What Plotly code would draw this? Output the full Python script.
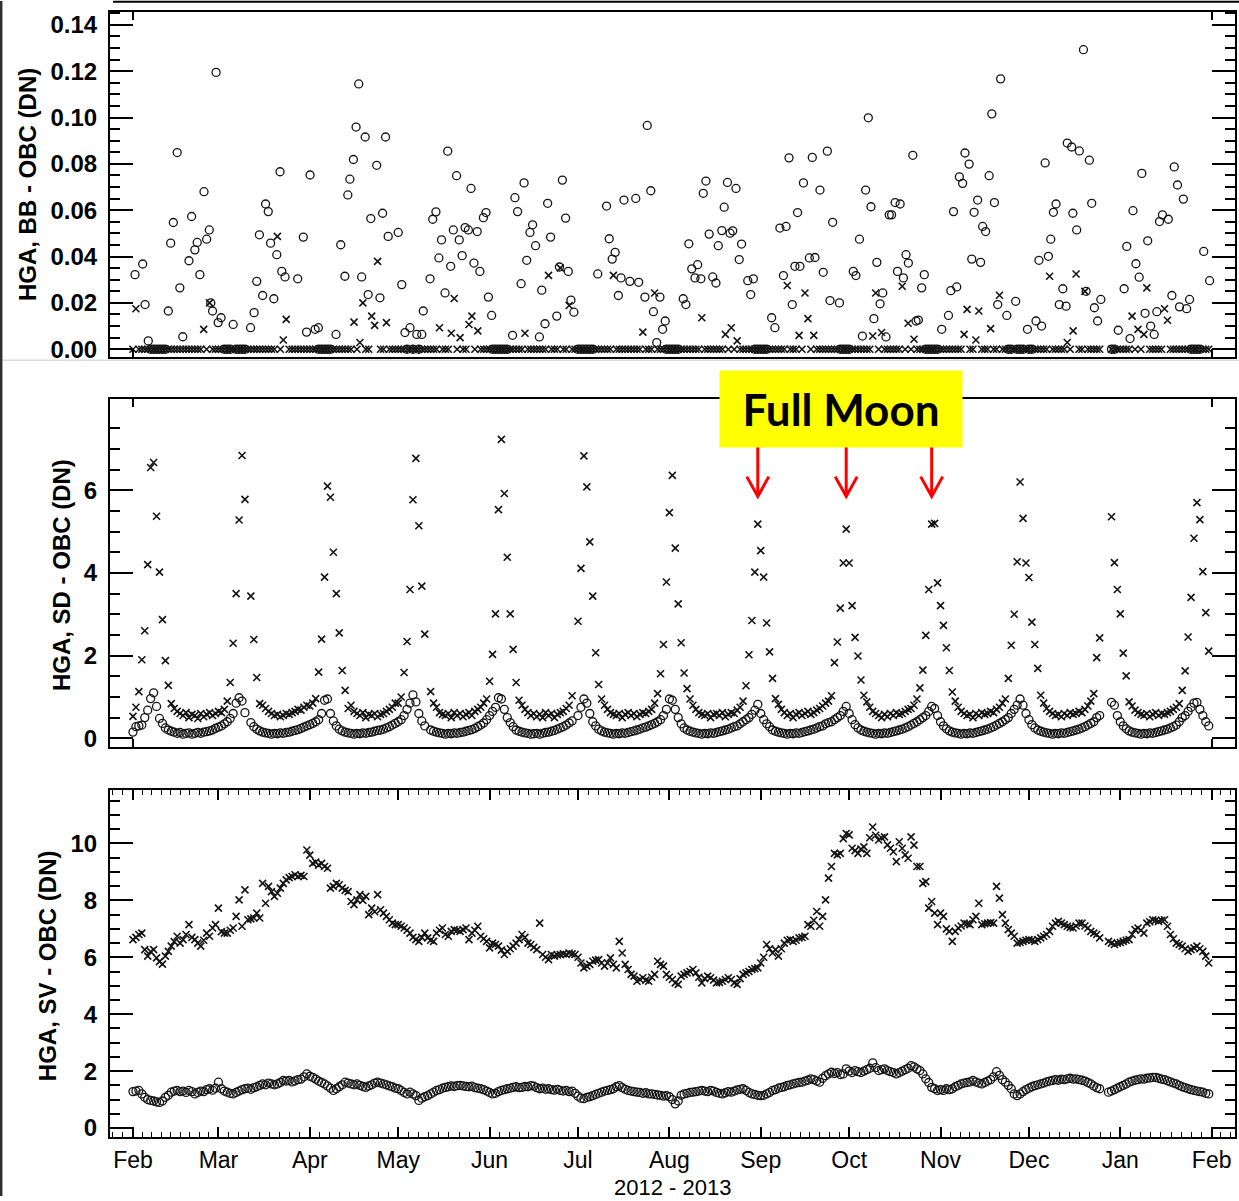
import pandas as pd
import plotly.graph_objects as go

START = "2012-02-01"          # first day of the daily series (day offset 0)
N_DAYS = 366                  # 2012-02-01 .. 2013-01-31

# ---------------- Panel 1 : HGA, BB - OBC (DN) ----------------
# circles: day offset (days since 2012-02-01) and value
bb_circle_day = [
    0.7, 3.3, 4.1, 5.2, 12.0, 12.8, 13.7, 15.0, 15.9, 16.9, 19.0, 19.9, 21.0, 21.8, 22.7, 24.1, 25.0, 25.9,
    26.4, 27.0, 28.2, 28.9, 29.9, 34.0, 39.9, 41.1, 42.0, 42.9, 44.0, 45.0, 45.9, 46.7, 47.8, 48.8, 49.9,
    50.5, 51.6, 55.9, 57.8, 58.9, 60.1, 61.8, 62.9, 68.9, 70.5, 71.9, 72.9, 73.6, 74.8, 75.7, 76.6, 77.6,
    78.8, 79.8, 80.7, 82.7, 83.8, 84.7, 85.7, 86.6, 90.0, 91.2, 92.3, 94.0, 96.3,
    98.0, 98.5, 100.8, 101.7, 102.8, 103.8, 104.7, 105.9, 106.8, 107.8, 108.7, 109.8, 110.7, 111.7, 112.7,
    113.8, 114.7, 115.7, 116.8, 117.7, 118.9, 119.8, 120.6, 121.7, 128.8, 129.6, 130.5, 131.7, 132.7, 133.6,
    134.7, 135.6, 136.6, 137.9, 138.7, 139.8, 140.7, 141.7, 143.8, 144.7, 145.7, 146.8, 147.7, 148.6, 149.6,
    157.7, 160.7, 161.6, 162.6, 163.6, 164.7, 165.6, 166.6, 168.6, 170.6, 171.6, 173.7, 174.5, 175.7, 176.6,
    177.7, 178.8, 179.7, 180.6, 186.7, 187.6, 188.6, 189.6, 190.7, 191.6, 192.7, 193.5, 194.4, 195.5, 196.7,
    197.8, 198.6, 199.8, 200.6, 201.7, 202.6, 203.5, 204.6, 205.7, 206.5, 208.6, 209.6, 210.5, 216.7, 217.8,
    219.5, 220.7, 221.6, 222.6, 223.7, 224.6, 225.5, 226.3, 227.5, 229.5, 230.5, 231.4,
    233.1, 234.2, 235.6, 236.5, 237.4, 239.7, 244.4, 245.3, 246.5, 247.5, 248.6, 249.5, 250.4, 251.4, 252.4,
    253.5, 254.4, 255.5, 256.6, 257.4, 258.6, 259.4, 260.3, 261.4, 262.3, 263.1, 264.6, 265.7, 266.5, 267.6,
    268.5, 274.4, 276.7, 277.5, 278.4, 279.5, 280.4, 281.5, 282.3, 283.7, 284.6, 285.4, 286.6, 287.6, 288.3,
    289.3, 290.5, 291.4, 292.3, 293.4, 294.4, 296.5, 299.5, 303.5, 306.4, 307.4, 308.3, 309.5, 310.6, 311.4,
    312.3, 313.2, 314.3, 315.5, 316.6, 317.0, 318.5, 318.9, 320.2, 321.1, 322.5, 323.4, 324.5, 325.3, 326.2,
    327.3, 328.4, 334.3, 336.3, 337.2, 338.3, 339.3, 340.3, 341.4, 342.3, 343.4, 344.3, 345.3, 346.5, 347.4,
    348.3, 349.3, 351.3, 352.5, 353.3, 354.4, 355.1, 356.4, 357.5, 358.5, 363.3, 365.3,
    # circles lying in the zero band
    6, 7, 8, 9, 10, 11, 31, 32, 33, 35, 36, 37, 38, 63, 64, 65, 66, 67, 93, 95, 97, 122, 123, 124, 125, 126,
    127, 151, 152, 153, 154, 155, 156, 181, 182, 183, 184, 185, 211, 212, 213, 214, 215, 240, 241, 242, 243,
    269, 270, 271, 272, 273, 297, 298, 300, 301, 302, 304, 305, 332, 333, 359, 360, 361, 362,
]
bb_circle_val = [
    .0322, .0368, .0193, .0036, .0165, .0458, .0547, .0849, .0265, .0054, .0382, .0573, .0429, .0461, .0322, .068, .0475, .0515,
    .02, .0165, .1195, .0115, .0136, .0107, .0093, .0158, .0293, .0494, .0232, .0627, .0594, .0458, .0218, .0408, .0766,
    .0336, .0312, .0304, .0484, .0074, .0752, .0086, .0093, .0064, .0451, .0315, .0666, .0734, .0819, .0959, .1145, .0312,
    .0916, .0236, .0564, .0794, .0222, .0587, .0916, .0487, .0504, .0279, .0072, .0093, .0064,
    .0064, .0165, .0304, .0561, .0593, .0394, .0472, .0243, .0855, .0358, .0515, .0749, .0472, .0404, .0525,
    .0515, .0694, .0372, .0508, .0336, .0568, .059, .0225, .0146, .006, .0654, .0594, .0283, .0718, .0384,
    .0504, .0537, .0447, .0053, .0255, .011, .063, .0484, .0143, .0355, .073, .0566, .0336, .0212, .016,
    .0325, .0618, .0477, .0389, .0418, .0232, .0308, .0644, .0293, .0651, .0289, .0225, .0966, .0684, .0162,
    .0029, .0225, .0086, .0122, .0218, .0193, .0455, .0347, .0308, .0365, .0304, .0673, .0726, .0497, .0312,
    .0286, .0447, .0512, .0613, .072, .0501, .0511, .0694, .0387, .0454, .0296, .0236, .0304, .0136, .0093,
    .0523, .0318, .053, .0826, .0193, .0358, .059, .0358, .0718, .0394, .0828, .0396,
    .0687, .0332, .0855, .021, .0548, .02, .0336, .0318, .0475, .0057, .0687, .0999, .0615, .0132, .0375,
    .0196, .0243, .0053, .058, .058, .0633, .0336, .0627, .0308, .0408, .0372, .0837, .0122, .0126, .0265,
    .0322, .0086, .0146, .0253, .0594, .0269, .0744, .0716, .0847, .0799, .0389, .0591, .0644, .0375, .053,
    .0508, .0749, .1016, .0633, .0193, .1167, .0146, .0207, .0086, .0122, .0384, .01, .0804, .0401, .0475,
    .0591, .0627, .0193, .0261, .0186, .089, .0873, .0587, .0515, .0856, .1293, .025, .0816, .063, .0179,
    .0122, .0215, .0082, .0261, .0444, .0046, .0598, .0369, .0311, .0759, .0155, .0468, .01, .0064, .0162,
    .0551, .058, .0561, .0232, .0787, .0709, .0183, .0648, .0175, .0215, .0422, .0296,
    0, 0, 0, 0, 0, 0, 0, 0, 0, 0, 0, 0, 0, 0, 0, 0, 0, 0, 0, 0, 0, 0, 0, 0, 0, 0,
    0, 0, 0, 0, 0, 0, 0, 0, 0, 0, 0, 0, 0, 0, 0, 0, 0, 0, 0, 0, 0,
    0, 0, 0, 0, 0, 0, 0, 0, 0, 0, 0, 0, 0, 0, 0, 0, 0, 0,
]
# crosses, one value per day (Feb 2012 .. Jan 2013)
bb_cross = [
    # Feb
    0, .0175, 0, 0, 0, 0, 0, 0, 0, 0, 0, 0, 0, 0, 0, 0, 0, 0, 0, 0, 0, 0, 0, 0, .0086, 0, .02, 0, 0,
    # Mar
    0, 0, 0, 0, 0, 0, 0, 0, 0, 0, 0, 0, 0, 0, 0, 0, 0, 0, 0, 0, .0487, 0, .004, .0129, 0, 0, 0, 0, 0, 0, 0,
    # Apr
    0, 0, 0, 0, 0, 0, 0, 0, 0, 0, 0, 0, 0, 0, 0, .0117, 0, .0029, .02, 0, 0, .0143, .0103, .0379, 0, 0, .0115, 0, 0, 0,
    # May
    0, 0, 0, 0, 0, 0, 0, 0, 0, 0, 0, 0, 0, 0, .0093, 0, 0, 0, .0069, .0219, 0, .005, 0, 0, .0107, .0143, 0, .0079, 0, 0, 0,
    # Jun
    0, 0, 0, 0, 0, 0, 0, 0, 0, 0, 0, 0, .0069, 0, 0, 0, 0, 0, 0, 0, .0319, 0, 0, 0, .0351, 0, 0, .0189, 0, 0,
    # Jul
    0, 0, 0, 0, 0, 0, 0, 0, 0, 0, 0, 0, .0319, 0, 0, 0, 0, 0, 0, 0, 0, 0, .0074, 0, 0, 0, .0243, 0, 0, 0, 0,
    # Aug
    0, 0, 0, 0, 0, 0, 0, 0, 0, 0, 0, .0136, 0, 0, 0, 0, 0, 0, 0, .0064, 0, .0093, 0, .0036, 0, 0, 0, 0, 0, 0, 0,
    # Sep
    0, 0, 0, 0, 0, 0, 0, 0, 0, .0275, 0, 0, 0, .006, 0, .0243, .0132, 0, .006, 0, 0, 0, 0, 0, 0, 0, 0, 0, 0, 0,
    # Oct
    0, 0, 0, 0, 0, 0, 0, 0, .0057, .0243, 0, .0072, 0, 0, 0, 0, 0, 0, .0272, 0, .0112, 0, .0043, 0, 0, 0, 0, 0, 0, 0, 0,
    # Nov
    0, 0, 0, 0, 0, 0, 0, 0, .0064, .0172, 0, 0, .004, .0165, 0, 0, 0, .0089, 0, 0, .0233, 0, 0, 0, 0, 0, 0, 0, 0, 0,
    # Dec
    0, 0, 0, 0, 0, 0, 0, .0315, 0, 0, 0, 0, 0, .0029, 0, .0079, .0325, 0, 0, .025, 0, 0, 0, 0, 0, None, None, None, 0, 0, 0,
    # Jan
    0, 0, 0, 0, .0143, 0, .0086, 0, .0064, .0265, 0, 0, 0, 0, 0, .0175, .0125, 0, 0, 0, 0, 0, 0, 0, 0, 0, 0, 0, 0, 0, 0,
]

# ---------------- Panel 2 : HGA, SD - OBC (DN) ----------------
sd_cross = [
    # Feb
    0.53, 0.75, 1.13, 1.9, 2.6, 4.2, 6.55, 6.67, 5.37, 4.02, 2.87, 1.88, 1.28, 0.84, 0.72, 0.65, 0.6, 0.55, 0.62, 0.5,
    0.58, 0.55, 0.48, 0.6, 0.52, 0.58, 0.62, 0.55, 0.6,
    # Mar
    0.65, 0.62, 0.7, 0.9, 1.35, 2.3, 3.5, 5.28, 6.84, 5.78, None, 3.44, 2.39, 1.47, 0.84, 0.8, 0.72, 0.65, 0.6, 0.55,
    0.58, 0.52, 0.55, 0.6, 0.58, 0.62, 0.65, 0.7, 0.68, 0.75, 0.8,
    # Apr
    0.78, 0.85, 0.96, 1.6, 2.4, 3.9, 6.1, 5.83, 4.5, 3.5, 2.55, 1.64, 1.16, 0.72, 0.8, 0.65, 0.6, 0.55, 0.62, 0.5,
    0.58, 0.55, 0.6, 0.52, 0.58, 0.6, 0.65, 0.7, 0.75, 0.85,
    # May
    0.85, 1.0, 1.59, 2.34, 3.6, 5.77, 6.77, 5.14, 3.68, 2.52, None, 1.13, 0.85, 0.75, 0.62, 0.58, 0.55, 0.6, 0.5, 0.62,
    0.55, 0.6, 0.52, 0.58, 0.62, 0.55, 0.65, 0.7, 0.75, 0.85, 0.95,
    # Jun
    1.38, 2.03, 3.01, 5.53, 7.23, 5.92, 4.38, 3.01, 2.15, 1.35, 0.92, 0.8, 0.7, 0.62, 0.55, 0.6, 0.52, 0.58, 0.5, 0.62,
    0.55, 0.6, 0.5, 0.58, 0.62, 0.65, 0.72, 0.8, 1.03, None,
    # Jul
    2.83, 4.11, 6.83, 6.08, 4.75, 3.44, 2.07, 1.3, 0.95, 0.8, 0.7, 0.62, 0.58, 0.55, 0.6, 0.5, 0.58, 0.62, 0.55, 0.6,
    0.52, 0.58, 0.62, 0.6, 0.65, 0.7, 0.85, 1.08, 1.56, 2.27, 3.78,
    # Aug
    5.46, 6.36, 4.6, 3.25, 2.31, 1.58, 1.2, 0.95, 0.8, 0.7, 0.62, 0.58, 0.55, 0.6, 0.5, 0.58, 0.6, 0.55, 0.62, 0.52,
    0.58, 0.62, 0.6, 0.68, 0.75, 0.9, 1.27, 2.02, 2.85, 4.02, 5.18,
    # Sep
    4.54, 3.9, 2.79, 2.09, 1.45, 0.96, 0.82, 0.7, 0.62, 0.55, 0.6, 0.5, 0.58, 0.62, 0.55, 0.6, 0.65, 0.58, 0.62, 0.68,
    0.72, 0.78, 0.85, 0.9, 1.03, 1.83, 2.33, 3.15, 4.24, 5.06,
    # Oct
    4.24, 3.21, 2.44, 1.99, 1.41, 1.04, 0.88, 0.75, 0.65, 0.6, 0.55, 0.5, 0.58, 0.52, 0.6, 0.55, 0.62, 0.58, 0.6, 0.65,
    0.7, 0.72, 0.8, 0.95, 1.22, 1.65, 2.49, 3.6, 5.18, 5.2, 3.76,
    # Nov
    3.21, 2.73, 2.19, 1.64, 1.12, 0.9, 0.75, 0.65, 0.6, 0.55, 0.58, 0.5, 0.6, 0.55, 0.62, 0.58, 0.6, 0.65, 0.62, 0.7,
    0.75, 0.85, 0.95, 1.45, 2.25, 3.0, 4.27, 6.2, 5.32, 4.24,
    # Dec
    3.89, 2.81, 2.27, 1.69, 1.04, 0.85, 0.72, 0.65, 0.6, 0.55, 0.58, 0.52, 0.6, 0.55, 0.62, 0.58, 0.6, 0.65, 0.62, 0.7,
    0.78, 0.9, 1.08, 1.95, 2.43, None, None, None, 5.36, 4.25, 3.6,
    # Jan
    3.01, 2.06, 1.51, 0.88, 0.78, 0.68, 0.62, 0.58, 0.55, 0.6, 0.52, 0.58, 0.62, 0.55, 0.6, 0.58, 0.62, 0.65, 0.7, 0.75,
    0.84, 1.16, 1.63, 2.45, 3.41, 4.84, 5.7, 5.29, 4.03, 3.04, 2.11,
]
sd_circle = [
    # Feb
    0.15, 0.28, 0.3, 0.32, 0.5, 0.68, 0.96, 1.1, 0.77, 0.48, 0.36, 0.25, 0.2, 0.17, 0.15, 0.12, 0.14, 0.1, 0.12, 0.13,
    0.1, 0.12, 0.14, 0.12, 0.15, 0.16, 0.18, 0.2, 0.24,
    # Mar
    0.27, 0.3, 0.35, 0.4, 0.48, 0.6, 0.85, 0.98, 0.9, 0.62, None, 0.38, 0.28, 0.22, 0.18, 0.15, 0.13, 0.12, 0.1, 0.12,
    0.11, 0.13, 0.12, 0.14, 0.15, 0.17, 0.19, 0.21, 0.24, 0.27, 0.3,
    # Apr
    0.33, 0.36, 0.4, 0.45, 0.6, 0.92, 0.95, 0.6, 0.42, 0.3, 0.22, 0.18, 0.15, 0.13, 0.12, 0.1, 0.12, 0.11, 0.13, 0.12,
    0.14, 0.15, 0.17, 0.19, 0.2, 0.22, 0.25, 0.28, 0.32, 0.36,
    # May
    0.4, 0.45, 0.55, 0.7, 0.85, 1.05, 0.88, 0.6, 0.42, 0.3, None, 0.2, 0.17, 0.15, 0.13, 0.12, 0.1, 0.12, 0.11, 0.13,
    0.12, 0.14, 0.15, 0.17, 0.19, 0.21, 0.24, 0.28, 0.32, 0.37, 0.45,
    # Jun
    0.55, 0.65, 0.75, 0.98, 0.95, 0.7, 0.5, 0.38, 0.28, 0.2, 0.17, 0.15, 0.13, 0.12, 0.1, 0.11, 0.12, 0.1, 0.12, 0.14,
    0.15, 0.17, 0.19, 0.22, 0.25, 0.28, 0.32, 0.37, 0.42, None,
    # Jul
    0.55, 0.75, 0.95, 0.85, 0.6, 0.4, 0.3, 0.22, 0.18, 0.15, 0.13, 0.12, 0.1, 0.12, 0.11, 0.13, 0.12, 0.14, 0.16, 0.18,
    0.2, 0.22, 0.25, 0.27, 0.3, 0.33, 0.36, 0.4, 0.45, 0.55, 0.7,
    # Aug
    0.95, 0.92, 0.7, 0.5, 0.35, 0.25, 0.2, 0.17, 0.15, 0.13, 0.12, 0.1, 0.12, 0.11, 0.13, 0.12, 0.14, 0.16, 0.18, 0.2,
    0.22, 0.25, 0.28, 0.3, 0.35, 0.4, 0.45, 0.5, 0.58, 0.68, 0.82,
    # Sep
    0.6, 0.45, 0.35, 0.28, 0.2, 0.17, 0.15, 0.13, 0.12, 0.1, 0.12, 0.11, 0.13, 0.12, 0.14, 0.16, 0.18, 0.2, 0.22, 0.25,
    0.28, 0.3, 0.35, 0.38, 0.4, 0.45, 0.5, 0.55, 0.65, 0.77,
    # Oct
    0.6, 0.45, 0.33, 0.25, 0.2, 0.17, 0.15, 0.13, 0.12, 0.1, 0.12, 0.11, 0.13, 0.12, 0.14, 0.16, 0.18, 0.2, 0.22, 0.25,
    0.28, 0.32, 0.36, 0.4, 0.45, 0.5, 0.55, 0.65, 0.77, 0.72, 0.55,
    # Nov
    0.4, 0.3, 0.23, 0.18, 0.15, 0.13, 0.12, 0.1, 0.12, 0.11, 0.13, 0.12, 0.14, 0.16, 0.18, 0.2, 0.22, 0.25, 0.28, 0.32,
    0.36, 0.4, 0.45, 0.5, 0.6, 0.7, 0.8, 0.95, 0.8, 0.6,
    # Dec
    0.45, 0.33, 0.25, 0.2, 0.17, 0.15, 0.13, 0.12, 0.1, 0.12, 0.11, 0.13, 0.12, 0.14, 0.16, 0.18, 0.2, 0.22, 0.25, 0.28,
    0.32, 0.36, 0.4, 0.5, 0.55, None, None, None, 0.87, 0.8, 0.55,
    # Jan
    0.4, 0.3, 0.23, 0.18, 0.15, 0.13, 0.12, 0.1, 0.12, 0.11, 0.13, 0.12, 0.14, 0.16, 0.18, 0.2, 0.22, 0.25, 0.28, 0.32,
    0.4, 0.5, 0.55, 0.65, 0.75, 0.85, 0.87, 0.7, 0.55, 0.4, 0.3,
]

# ---------------- Panel 3 : HGA, SV - OBC (DN) ----------------
sv_cross = [
    # Feb
    6.62, 6.70, 6.80, 6.85, 6.27, 6.04, 6.20, 6.27, 5.98, 5.85, 5.76, 6.04, 6.21, 6.39, 6.55, 6.74, 6.50, 6.62, 6.80, 7.15,
    6.70, 6.62, 6.50, 6.39, 6.60, 6.85, 6.74, 7.03, 7.15,
    # Mar
    7.73, 6.90, 6.85, 6.85, 6.95, 7.03, 7.44, 8.02, 7.09, 8.37, 7.32, 7.35, 7.38, 7.55, 7.38, 8.60, 7.90, 8.49, 8.31, 8.14,
    8.25, 8.43, 8.60, 8.72, 8.80, 8.84, 8.90, 8.84, 8.88, 8.84, 9.77,
    # Apr
    9.59, 9.30, 9.35, 9.24, 9.30, 9.19, 9.13, 8.43, 8.49, 8.60, 8.55, 8.43, 8.35, 8.31, 7.96, 7.85, 8.02, 8.20, 8.00, 8.14,
    7.50, 7.73, 7.60, 8.20, 7.67, 7.55, 7.44, 7.32, 7.20, 7.15,
    # May
    7.15, 7.09, 7.03, 6.95, 6.85, 6.70, 6.62, 6.56, 6.70, 6.85, 6.68, 6.60, 6.56, 6.85, 6.95, 7.03, 6.80, 6.74, 6.91, 6.97,
    6.95, 6.91, 6.97, 7.03, 6.62, 6.85, 6.95, 7.09, 6.74, 6.65, 6.56,
    # Jun
    6.33, 6.50, 6.45, 6.39, 6.25, 6.10, 6.21, 6.30, 6.39, 6.50, 6.62, 6.80, 6.70, 6.50, 6.45, 6.35, 6.27, 7.20, 6.10, 6.00,
    5.92, 6.10, 6.04, 6.08, 6.10, 6.12, 6.10, 6.15, 6.12, 6.10,
    # Jul
    6.00, 5.80, 5.63, 5.69, 5.75, 5.86, 5.90, 5.92, 5.80, 5.69, 5.80, 5.98, 5.75, 5.63, 6.56, 6.15, 5.75, 5.57, 5.40, 5.34,
    5.16, 5.22, 5.28, 5.20, 5.16, 5.30, 5.40, 5.86, 5.75, 5.69, 5.40,
    # Aug
    5.30, 5.22, 5.10, 5.05, 5.34, 5.40, 5.45, 5.50, 5.57, 5.45, 5.30, 5.10, 5.25, 5.34, 5.28, 5.20, 5.10, 5.12, 5.16, 5.22,
    5.28, 5.22, 5.10, 5.05, 5.25, 5.40, 5.45, 5.50, 5.57, 5.60, 5.63,
    # Sep
    5.80, 6.00, 6.45, 6.30, 6.15, 6.27, 6.04, 6.30, 6.50, 6.60, 6.62, 6.56, 6.60, 6.68, 6.70, 6.74, 7.15, 7.09, 7.30, 7.61,
    7.09, 7.44, 8.02, 8.78, 9.19, 9.65, 9.60, 9.65, 10.17, 10.35,
    # Oct
    10.30, 9.83, 9.75, 9.65, 9.80, 9.88, 9.65, 10.20, 10.58, 10.29, 10.12, 10.20, 10.23, 9.95, 9.83, 9.71, 9.36, 10.06,
    9.83, 9.60, 9.48, 10.23, 9.94, 9.19, 9.19, 8.60, 8.66, 7.73, 7.96, 7.55, 7.15,
    # Nov
    7.55, 7.44, 7.00, 6.91, 6.56, 6.91, 7.03, 7.10, 7.20, 7.18, 7.15, 7.32, 7.44, 7.90, 7.15, 7.18, 7.20, 7.22, 7.20, 8.49,
    8.08, 7.50, 7.20, 6.97, 6.85, 6.74, 6.50, 6.52, 6.56, 6.60,
    # Dec
    6.62, 6.60, 6.56, 6.62, 6.68, 6.74, 6.80, 6.91, 7.09, 7.20, 7.26, 7.20, 7.15, 7.09, 7.05, 7.03, 7.10, 7.20, 7.20, 7.10,
    7.03, 6.91, 6.85, 6.80, 6.68, None, None, 6.56, 6.50, 6.45, 6.50,
    # Jan
    6.52, 6.56, 6.60, 6.62, 6.80, 6.97, 7.03, 6.95, 6.85, 7.20, 7.25, 7.32, 7.30, 7.26, 7.30, 7.32, 7.09, 6.80, 6.65, 6.50,
    6.45, 6.39, 6.30, 6.21, 6.27, 6.33, 6.39, 6.30, 6.21, 6.04, 5.80,
]
sv_circle = [
    # Feb
    1.28, 1.30, 1.32, 1.20, 1.08, 1.00, 0.97, 0.95, 0.92, 0.90, 0.95, 1.08, 1.15, 1.26, 1.30, 1.32, 1.28, 1.30, 1.25, 1.32,
    1.28, 1.20, 1.25, 1.30, 1.28, 1.35, 1.38, 1.33, 1.40,
    # Mar
    1.61, 1.38, 1.30, 1.26, 1.22, 1.20, 1.25, 1.30, 1.35, 1.38, 1.40, 1.36, 1.42, 1.45, 1.50, 1.55, 1.52, 1.58, 1.55, 1.52,
    1.55, 1.60, 1.67, 1.65, 1.67, 1.62, 1.66, 1.70, 1.72, 1.80, 1.90,
    # Apr
    1.82, 1.78, 1.72, 1.65, 1.60, 1.55, 1.48, 1.40, 1.32, 1.38, 1.45, 1.52, 1.61, 1.58, 1.55, 1.52, 1.55, 1.50, 1.46, 1.43,
    1.48, 1.52, 1.58, 1.61, 1.58, 1.55, 1.52, 1.48, 1.45, 1.40,
    # May
    1.38, 1.32, 1.25, 1.20, 1.26, 1.20, 1.14, 0.97, 1.05, 1.10, 1.14, 1.20, 1.26, 1.32, 1.35, 1.40, 1.43, 1.45, 1.48, 1.46,
    1.49, 1.50, 1.48, 1.46, 1.45, 1.47, 1.42, 1.40, 1.38, 1.35, 1.30,
    # Jun
    1.25, 1.20, 1.22, 1.28, 1.32, 1.35, 1.38, 1.40, 1.43, 1.45, 1.42, 1.43, 1.46, 1.45, 1.49, 1.47, 1.42, 1.38, 1.40, 1.36,
    1.38, 1.35, 1.33, 1.36, 1.32, 1.30, 1.32, 1.28, 1.30, 1.22,
    # Jul
    1.12, 1.05, 1.03, 1.08, 1.10, 1.14, 1.18, 1.22, 1.26, 1.30, 1.32, 1.35, 1.38, 1.45, 1.49, 1.42, 1.36, 1.32, 1.30, 1.28,
    1.26, 1.25, 1.22, 1.24, 1.20, 1.20, 1.18, 1.16, 1.15, 1.12, 1.14,
    # Aug
    1.10, 1.00, 0.85, 0.95, 1.15, 1.20, 1.22, 1.25, 1.26, 1.28, 1.30, 1.32, 1.30, 1.28, 1.32, 1.30, 1.25, 1.22, 1.20, 1.24,
    1.28, 1.26, 1.30, 1.34, 1.36, 1.38, 1.32, 1.25, 1.20, 1.18, 1.15,
    # Sep
    1.14, 1.15, 1.20, 1.25, 1.32, 1.35, 1.40, 1.43, 1.45, 1.50, 1.52, 1.55, 1.58, 1.60, 1.61, 1.65, 1.68, 1.73, 1.70, 1.65,
    1.61, 1.75, 1.84, 1.90, 1.96, 1.92, 1.95, 1.88, 1.90, 2.08,
    # Oct
    2.00, 1.95, 2.02, 1.98, 1.95, 2.00, 2.05, 2.10, 2.29, 2.12, 2.02, 2.05, 2.08, 2.02, 1.98, 1.95, 1.90, 1.95, 2.00, 2.05,
    2.10, 2.19, 2.15, 2.08, 2.02, 1.90, 1.73, 1.60, 1.43, 1.38, 1.32,
    # Nov
    1.35, 1.32, 1.38, 1.35, 1.38, 1.45, 1.50, 1.55, 1.58, 1.60, 1.62, 1.67, 1.62, 1.58, 1.55, 1.60, 1.65, 1.70, 1.80, 1.98,
    1.85, 1.70, 1.61, 1.50, 1.38, 1.20, 1.14, 1.20, 1.28, 1.35,
    # Dec
    1.40, 1.45, 1.49, 1.52, 1.55, 1.58, 1.62, 1.65, 1.67, 1.70, 1.68, 1.72, 1.70, 1.73, 1.75, 1.72, 1.73, 1.70, 1.68, 1.65,
    1.60, 1.55, 1.48, 1.42, 1.38, None, None, 1.26, 1.30, 1.35, 1.40,
    # Jan
    1.45, 1.50, 1.55, 1.61, 1.65, 1.68, 1.70, 1.73, 1.72, 1.75, 1.76, 1.78, 1.78, 1.75, 1.72, 1.70, 1.66, 1.62, 1.58, 1.55,
    1.50, 1.45, 1.42, 1.38, 1.35, 1.32, 1.30, 1.28, 1.26, 1.22, 1.20,
]

# Full Moon arrows (dates)
fullmoon_dates = ["2012-08-31", "2012-09-30", "2012-10-29"]

month_ticks = ["Feb", "Mar", "Apr", "May", "Jun", "Jul", "Aug", "Sep", "Oct", "Nov", "Dec", "Jan", "Feb"]
sd_major_ticks = [0, 2, 4, 6]
sd_minor_ticks = [0.5, 1, 1.5, 2.5, 3, 3.5, 4.5, 5, 5.5, 6.5, 7, 7.5]

for name, arr in [("bb_cross", bb_cross), ("sd_cross", sd_cross), ("sd_circle", sd_circle),
                  ("sv_cross", sv_cross), ("sv_circle", sv_circle)]:
    assert len(arr) == N_DAYS, (name, len(arr))
assert len(bb_circle_day) == len(bb_circle_val), (len(bb_circle_day), len(bb_circle_val))

# ---------------- build figure ----------------
W, H = 1239, 1201
days = pd.date_range(START, periods=N_DAYS, freq="D")
bb_circle_x = pd.Timestamp(START) + pd.to_timedelta(bb_circle_day, unit="D")

INK = "#141414"
circ = dict(symbol="circle-open", size=8, color=INK, line=dict(width=1.3, color=INK))
cross = dict(symbol="x-thin-open", size=7, color=INK, line=dict(width=1.6, color=INK))

fig = go.Figure()
fig.add_trace(go.Scatter(x=days, y=bb_cross, mode="markers", marker=cross, xaxis="x", yaxis="y"))
fig.add_trace(go.Scatter(x=bb_circle_x, y=bb_circle_val, mode="markers", marker=circ, xaxis="x", yaxis="y"))
fig.add_trace(go.Scatter(x=days, y=sd_cross, mode="markers", marker=cross, xaxis="x2", yaxis="y2"))
fig.add_trace(go.Scatter(x=days, y=sd_circle, mode="markers", marker=circ, xaxis="x2", yaxis="y2"))
fig.add_trace(go.Scatter(x=days, y=sv_cross, mode="markers", marker=cross, xaxis="x3", yaxis="y3"))
fig.add_trace(go.Scatter(x=days, y=sv_circle, mode="markers", marker=circ, xaxis="x3", yaxis="y3"))


def py(px):
    return 1 - px / H


def pxx(px):
    return px / W


XR = ["2012-01-24 05:00", "2013-02-08 22:00"]
XDOM = [pxx(110), pxx(1235)]
FONT = "Liberation Sans, Arial, sans-serif"

frame = dict(showline=True, linecolor="black", linewidth=2, mirror="ticks",
             showgrid=False, zeroline=False, tickcolor="black", ticks="inside")

small_x = dict(frame, type="date", range=XR, domain=XDOM, tickmode="array",
               tickvals=["2012-02-01", "2013-02-01"], ticklen=8, tickwidth=1.5, showticklabels=False)

# minor ticks on the bottom axis: 8 per month interval
mstarts = pd.date_range("2012-01-01", "2013-03-01", freq="MS")
minor_vals = []
for a, b in zip(mstarts[:-1], mstarts[1:]):
    for k in range(1, 9):
        minor_vals.append(a + (b - a) * k / 9)

ytick_font = dict(family=FONT, size=24, color="black", weight="bold")
yminor = dict(ticks="inside", ticklen=10, tickwidth=1.5, tickcolor="black")

fig.update_layout(
    width=W, height=H, autosize=False,
    margin=dict(l=0, r=0, t=0, b=0),
    paper_bgcolor="white", plot_bgcolor="white",
    showlegend=False,
    xaxis=dict(small_x, anchor="y"),
    xaxis2=dict(small_x, anchor="y2"),
    xaxis3=dict(frame, type="date", range=XR, domain=XDOM, anchor="y3",
                tickmode="array",
                tickvals=pd.date_range("2012-02-01", "2013-02-01", freq="MS"),
                ticktext=month_ticks, ticklen=10, tickwidth=1.5,
                tickfont=dict(family=FONT, size=23, color="black"), ticklabelstandoff=1,
                minor=dict(tickmode="array", tickvals=minor_vals, ticks="inside", ticklen=5,
                           tickwidth=1.2, tickcolor="black")),
    yaxis=dict(frame, domain=[py(358), py(11)], range=[-0.00344, 0.14558], anchor="x",
               tick0=0, dtick=0.02, tickformat=".2f", ticklen=23, tickwidth=2,
               tickfont=ytick_font, ticklabelstandoff=6,
               minor=dict(yminor, dtick=0.005, tick0=0)),
    yaxis2=dict(frame, domain=[py(749.3), py(400)], range=[-0.2, 8.207], anchor="x2",
                tickmode="array", tickvals=sd_major_ticks, ticklen=23, tickwidth=2,
                tickfont=ytick_font, ticklabelstandoff=6,
                minor=dict(yminor, tickmode="array", tickvals=sd_minor_ticks)),
    yaxis3=dict(frame, domain=[py(1141.7), py(792.7)], range=[-0.315, 11.888], anchor="x3",
                tick0=0, dtick=2, ticklen=23, tickwidth=2,
                tickfont=ytick_font, ticklabelstandoff=6,
                minor=dict(yminor, dtick=0.5, tick0=0)),
)

title_font = dict(family=FONT, size=24, color="black", weight="bold")
anns = [
    dict(text="HGA, BB - OBC (DN)", x=pxx(27), y=py(185)),
    dict(text="HGA, SD - OBC (DN)", x=pxx(61), y=py(577)),
    dict(text="HGA, SV - OBC (DN)", x=pxx(47), y=py(970)),
]
for a in anns:
    fig.add_annotation(xref="paper", yref="paper", showarrow=False, textangle=-90,
                       xanchor="center", yanchor="middle", font=title_font, **a)

fig.add_annotation(text="2012 - 2013", xref="paper", yref="paper", x=pxx(672), y=py(1192),
                   xanchor="center", yanchor="middle", showarrow=False, borderpad=0,
                   font=dict(family=FONT, size=22, color="black"))

# Full Moon label
fig.add_annotation(text="<b>Full Moon</b>", xref="paper", yref="paper", x=pxx(841), y=py(410),
                   xanchor="center", yanchor="middle", showarrow=False,
                   width=242, height=76, bgcolor="#FFFF00", borderpad=0,
                   font=dict(family="Lato, Open Sans, sans-serif", size=44, color="black"))

# red arrows below the label (x anchored on the dates, pixel offsets for the head)
y_top, y_arm, y_tip = py(448), py(478), py(498)
for d in fullmoon_dates:
    fig.add_shape(type="path", xref="x2", yref="paper", xsizemode="pixel", xanchor=d,
                  path=f"M0,{y_top} L0,{y_tip} M-11,{y_arm} L0,{y_tip} L11,{y_arm}",
                  line=dict(color="#FF0000", width=3))

# page edge artefacts of the original screenshot
fig.add_shape(type="line", xref="paper", yref="paper", x0=pxx(113), x1=1, y0=py(0.8), y1=py(0.8),
              line=dict(color="black", width=2))
fig.add_shape(type="line", xref="paper", yref="paper", x0=pxx(1.2), x1=pxx(1.2), y0=0, y1=1,
              line=dict(color="#303030", width=2.5))
fig.add_shape(type="line", xref="paper", yref="paper", x0=pxx(3), x1=1, y0=py(361), y1=py(361),
              line=dict(color="#dcdcdc", width=1.5))

fig.write_html("out.html")
